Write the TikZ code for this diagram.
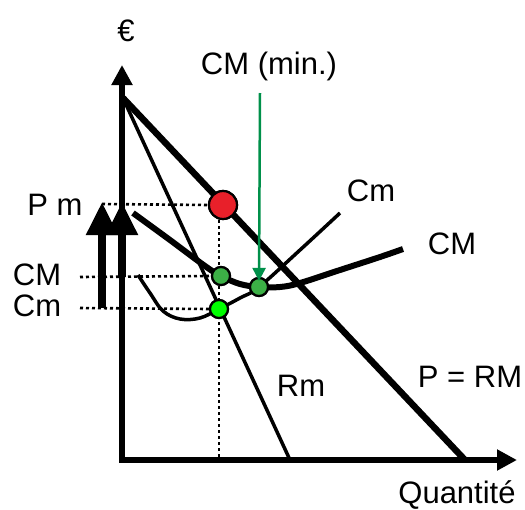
\documentclass[tikz,border=0pt]{standalone}
\usepackage{fontspec}
\setmainfont{Liberation Sans}
\usetikzlibrary{arrows.meta}
\definecolor{dotred}{RGB}{232,32,42}
\definecolor{dotgreen}{RGB}{60,176,70}
\definecolor{dotlime}{RGB}{0,255,0}
\definecolor{arrgreen}{RGB}{0,144,74}
\tikzset{
  lbl/.style={font=\fontsize{31}{36}\selectfont, inner sep=0pt},
  axisline/.style={line width=5.5pt, -{Triangle[length=20pt,width=20pt]}},
  thickline/.style={line width=6.5pt},
  thinline/.style={line width=3.5pt},
  dotline/.style={line width=2.6pt, dash pattern=on 3pt off 3pt},
  bigarrow/.style={line width=8pt, -{Triangle[length=33pt,width=30pt]}},
  ptdot/.style={circle, draw=black, line width=2.2pt, inner sep=0pt},
}
\begin{document}
\begin{tikzpicture}[x=1pt,y=-1pt]
\useasboundingbox (0,0) rectangle (525,509);
% coordinates
\coordinate (O) at (122,460);
\coordinate (Ytop) at (122,65);
\coordinate (Xend) at (517,460);
\coordinate (A) at (123,98);
\coordinate (PRMend) at (465,460);
\coordinate (RMend) at (290,460);
\coordinate (PmL) at (102,204);
\coordinate (CMl) at (80,277);
\coordinate (Cml) at (80,308);
\coordinate (Vbot) at (219,460);
\coordinate (GArrStart) at (260,93);
\coordinate (Ar1s) at (102,308);
\coordinate (Ar1t) at (102,202);
\coordinate (Ar2s) at (122,277);
\coordinate (Ar2t) at (122,202);

% dots (nodes)
\node[ptdot, fill=dotred, minimum size=28pt] (red) at (223,205) {};
\node[ptdot, fill=dotgreen, minimum size=18pt] (cmdot) at (221,276) {};
\node[ptdot, fill=dotgreen, minimum size=18pt] (mindot) at (259,287) {};
\node[ptdot, fill=dotlime, minimum size=18pt] (cmldot) at (219,309) {};

% dotted guides
\draw[dotline] (PmL) -- (red.west);
\draw[dotline] (CMl) -- (cmdot.west);
\draw[dotline] (Cml) -- (cmldot.west);
\draw[dotline] (red.south -| Vbot) -- (Vbot);

% curves
\draw[thinline] (A) -- (RMend);
\draw[thickline] (A) -- (PRMend);
\draw[thinline] plot[smooth, tension=0.6] coordinates {(138,275) (150,293) (163,311) (180,319) (200,318) (219,309) (240,298) (259,287) (300,250) (340,213)};
\draw[thickline, line width=6pt] plot[smooth, tension=0.6] coordinates {(133,213) (170,240) (205,266) (221,276) (240,284) (259,287) (280,287) (300,283) (340,270) (380,257) (403,249)};

% axes
\draw[axisline] (O) -- (Ytop);
\draw[axisline] ([xshift=-2.75pt]O) -- (Xend);

% big arrows
\draw[bigarrow] (Ar1s) -- (Ar1t);
\draw[bigarrow] (Ar2s) -- (Ar2t);

% dots redrawn on top
\node[ptdot, fill=dotred, minimum size=28pt] at (red) {};
\node[ptdot, fill=dotgreen, minimum size=18pt] at (cmdot) {};
\node[ptdot, fill=dotgreen, minimum size=18pt] at (mindot) {};
\node[ptdot, fill=dotlime, minimum size=18pt] at (cmldot) {};

% green arrow
\draw[arrgreen, line width=2.5pt, -{Triangle[length=13pt,width=13pt]}] (GArrStart) -- ([yshift=-4pt]mindot.north);

% labels
\node[lbl] (euro) at (126,31) {€};
\node[lbl] (cmmin) at (269,66) {CM (min.)};
\node[lbl] (pm) at (55,205) {P m};
\node[lbl] (cmlab) at (37,275) {CM};
\node[lbl] (cmllab) at (37,306) {Cm};
\node[lbl] (cmtop) at (371,191) {Cm};
\node[lbl] (cmright) at (452,244) {CM};
\node[lbl] (rm) at (301,386) {Rm};
\node[lbl] (prm) at (470,377) {P = RM};
\node[lbl] (q) at (457,495) {Quantité};
\end{tikzpicture}
\end{document}
